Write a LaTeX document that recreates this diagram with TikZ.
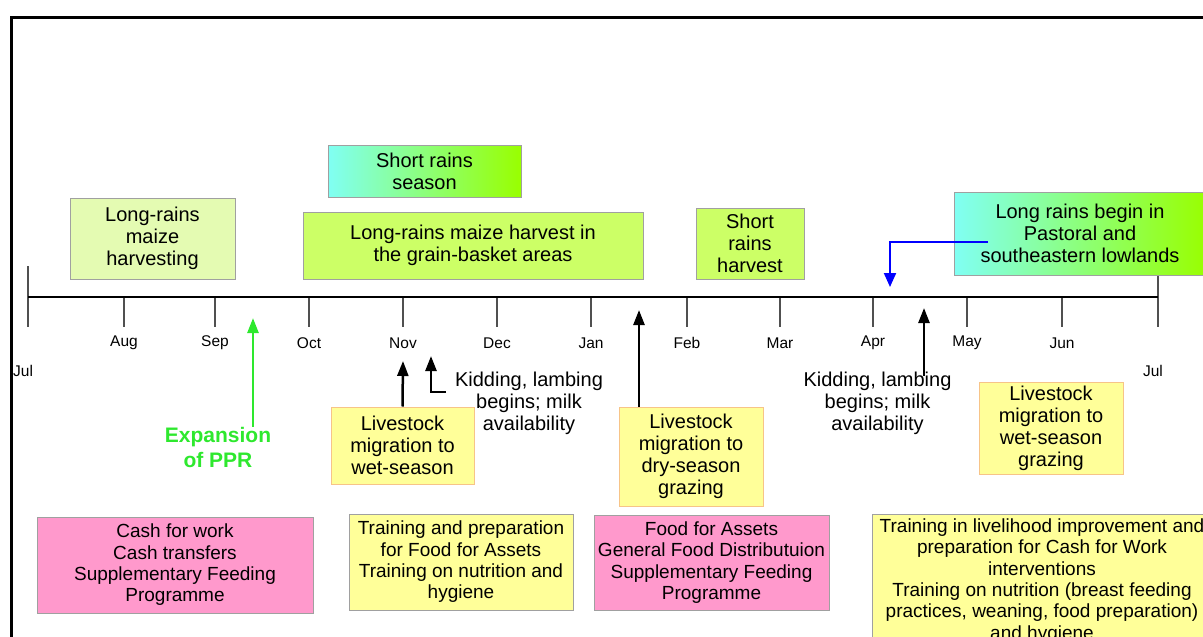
\documentclass[tikz,border=0pt]{standalone}
\usepackage{fontspec}
\setmainfont{Liberation Sans}
\usetikzlibrary{arrows.meta}
\definecolor{paleleaf}{HTML}{E4FBB2}
\definecolor{lime}{HTML}{CCFF66}
\definecolor{aqua}{HTML}{80FFF4}
\definecolor{leaf}{HTML}{99FF00}
\definecolor{lemon}{HTML}{FFFF99}
\definecolor{peach}{HTML}{F7C488}
\definecolor{rose}{HTML}{FF99CC}
\definecolor{pprgreen}{HTML}{2EE82E}
\definecolor{linegrey}{HTML}{A0A0A0}
\definecolor{tickgrey}{HTML}{505050}
\tikzset{
  box/.style={draw=linegrey, line width=1pt, align=center, inner sep=0pt, font=\fontsize{20}{22}\selectfont},
  rainbox/.style={box, left color=aqua, right color=leaf},
  livebox/.style={box, draw=peach, fill=lemon},
  aidbox/.style={box, font=\fontsize{19}{21.3}\selectfont},
  note/.style={align=center, inner sep=0pt, font=\fontsize{20}{22}\selectfont},
  month/.style={inner sep=0pt, font=\fontsize{15.5}{18}\selectfont},
  uparrow/.style={line width=2.5pt, -{Triangle[length=15pt,width=11pt]}},
}
\begin{document}
\begin{tikzpicture}[x=1pt,y=-1pt]
\useasboundingbox (0,0) rectangle (1203,637);
\clip (0,0) rectangle (1203,637);
% frame
\draw[line width=3pt] (11,645) -- (11,17) -- (1215,17);
% time line and months
\draw[tickgrey, line width=1.3pt] (28,266) -- (28,327) (1158,266) -- (1158,327);
\foreach \x/\m in {124/Aug,215/Sep,309/Oct,403/Nov,497/Dec,591/Jan,687/Feb,780/Mar,873/Apr,967/May,1062/Jun} {
  \draw[tickgrey, line width=1.3pt] (\x,297) -- (\x,327);
  \node[month] (lbl\m) at (\x,343) {\m};
}
\node[month, anchor=west] (lblJulA) at (13,371) {Jul};
\node[month] (lblJulB) at (1153,371) {Jul};
\draw[line width=2pt] (28,297) -- (1158,297);
% seasons above the line
\node[box, fill=paleleaf, minimum width=165pt, minimum height=81pt] (lrharv) at (152.5,238.5) {Long-rains\\maize\\harvesting};
\node[rainbox, minimum width=193pt, minimum height=52pt] (srseason) at (424.5,171) {Short rains\\season};
\node[box, fill=lime, minimum width=340pt, minimum height=67pt] (basket) at (473,245.5) {Long-rains maize harvest in\\the grain-basket areas};
\node[box, fill=lime, minimum width=108pt, minimum height=71pt] (srharv) at (750,243.5) {Short\\rains\\harvest};
\node[rainbox, minimum width=252pt, minimum height=83pt] (lrbegin) at (1080,233.5) {Long rains begin in\\Pastoral and\\southeastern lowlands};
\coordinate (lrfoot) at (988,242);
\coordinate (lrtip) at (890,287);
\draw[blue, line width=2pt, -{Triangle[length=14pt,width=12pt]}] (lrfoot) -| (lrtip);
% events below the line
\node[font=\bfseries\fontsize{21}{25}\selectfont, text=pprgreen, align=center, inner sep=0pt] (ppr) at (218,447) {Expansion\\of PPR};
\coordinate (pprtip) at (253,318);
\draw[uparrow, pprgreen] (ppr.north -| pprtip) -- (pprtip);
\node[livebox, minimum width=143pt, minimum height=77pt] (wetmig) at (402.5,445.5) {Livestock\\migration to\\wet-season};
\coordinate (wettip) at (403,361);
\draw[uparrow] (wetmig.north) -- (wettip);
\node[note] (kidA) at (529,403) {Kidding, lambing\\begins; milk\\availability};
\coordinate (kidAfoot) at (446,392);
\coordinate (kidAtip) at (431,356);
\draw[uparrow] (kidAfoot) -| (kidAtip);
\node[livebox, minimum width=144pt, minimum height=99pt] (drymig) at (691,456.5) {Livestock\\migration to\\dry-season\\grazing};
\coordinate (drytip) at (639,310);
\draw[uparrow] (drymig.north -| drytip) -- (drytip);
\node[note] (kidB) at (877.5,403) {Kidding, lambing\\begins; milk\\availability};
\coordinate (kidBtip) at (924,308);
\draw[uparrow] ([yshift=-5pt]kidB.north -| kidBtip) -- (kidBtip);
\node[livebox, minimum width=144pt, minimum height=92pt] (wetgraze) at (1051,428) {Livestock\\migration to\\wet-season\\grazing};
% interventions
\node[aidbox, fill=rose, minimum width=276pt, minimum height=96pt] (cashA) at (175,565) {Cash for work\\Cash transfers\\Supplementary Feeding\\Programme};
\node[aidbox, fill=lemon, minimum width=224pt, minimum height=96pt] (trainA) at (461,562) {Training and preparation\\for Food for Assets\\Training on nutrition and\\hygiene};
\node[aidbox, fill=rose, minimum width=235pt, minimum height=95pt] (foodB) at (711.5,562.5) {Food for Assets\\General Food Distributuion\\Supplementary Feeding\\Programme};
\node[aidbox, fill=lemon, minimum width=340pt, minimum height=134pt] (trainB) at (1042,581) {Training in livelihood improvement and\\preparation for Cash for Work\\interventions\\Training on nutrition (breast feeding\\practices, weaning, food preparation)\\and hygiene};
\end{tikzpicture}
\end{document}
